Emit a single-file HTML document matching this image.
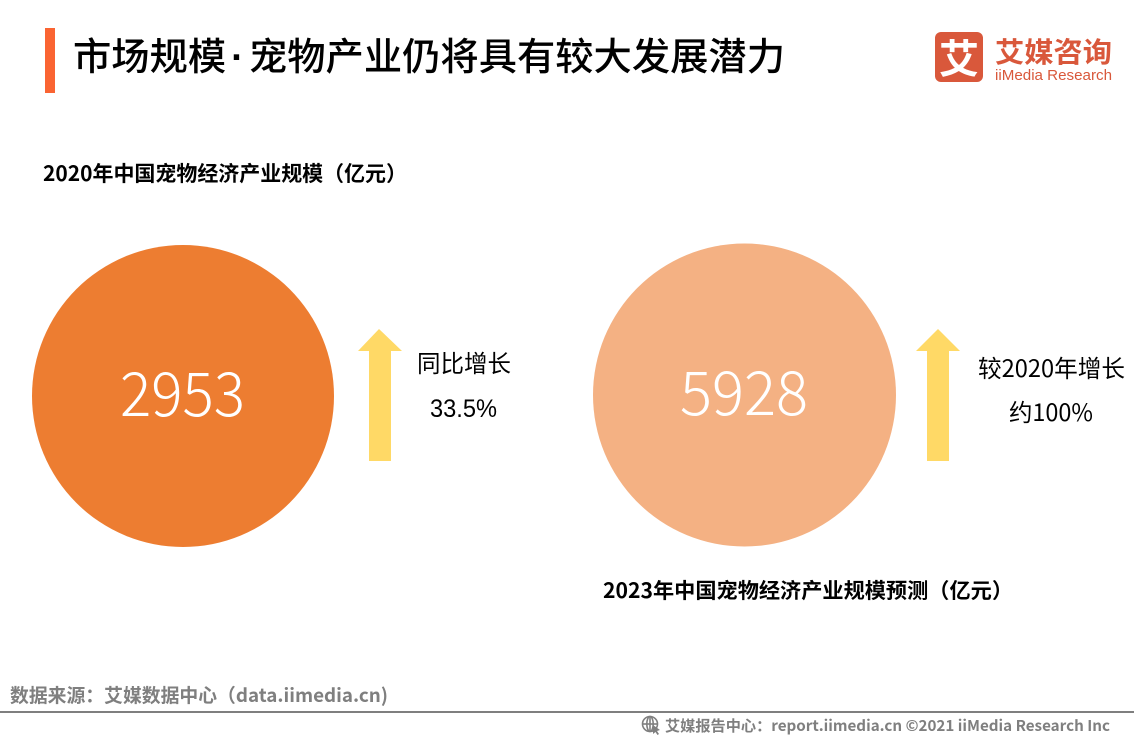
<!DOCTYPE html>
<html><head><meta charset="utf-8"><style>
html,body{margin:0;padding:0;background:#fff;}
svg{display:block;}
text{font-family:"Liberation Sans","Noto Sans CJK SC",sans-serif;}
.cjk{font-family:"Noto Sans CJK SC","Liberation Sans",sans-serif;}
.lat{font-family:"Liberation Sans",sans-serif;}
</style></head><body>
<svg width="1134" height="737" viewBox="0 0 1134 737" xmlns="http://www.w3.org/2000/svg">
<rect x="0" y="0" width="1134" height="737" fill="#fff"/>
<!-- title -->
<rect x="45" y="28" width="10" height="65" fill="#FA6432"/>
<text class="cjk" x="73" y="70" font-size="38" font-weight="500" fill="#000" textLength="712" lengthAdjust="spacingAndGlyphs">市场规模<tspan class="lat" font-weight="bold" dx="5">·</tspan><tspan dx="5">宠物产业仍将具有较大发展潜力</tspan></text>
<!-- logo -->
<rect x="935" y="32" width="48" height="50" rx="6" fill="#D9583B"/>
<text class="cjk" x="959" y="73" font-size="40" font-weight="bold" fill="#fff" text-anchor="middle">艾</text>
<text class="cjk" x="995" y="62" font-size="28" font-weight="bold" fill="#D9583B" textLength="117" lengthAdjust="spacingAndGlyphs">艾媒咨询</text>
<text x="995" y="80" font-size="15" fill="#D9583B" textLength="117" lengthAdjust="spacingAndGlyphs">iiMedia Research</text>
<!-- subtitles -->
<text class="cjk" x="43" y="181" font-size="21" font-weight="bold" fill="#000" textLength="364" lengthAdjust="spacingAndGlyphs">2020年中国宠物经济产业规模（亿元）</text>
<text class="cjk" x="603" y="598" font-size="21" font-weight="bold" fill="#000" textLength="410" lengthAdjust="spacingAndGlyphs">2023年中国宠物经济产业规模预测（亿元）</text>
<!-- circles -->
<circle cx="183" cy="396" r="151" fill="#ED7D31"/>
<text class="cjk" x="120" y="416" font-size="61" font-weight="300" fill="#fff" textLength="125" lengthAdjust="spacingAndGlyphs">2953</text>
<circle cx="744.5" cy="395" r="151.5" fill="#F4B183"/>
<text class="cjk" x="680" y="415" font-size="61" font-weight="300" fill="#fff" textLength="128" lengthAdjust="spacingAndGlyphs">5928</text>
<!-- arrows -->
<polygon points="379,329 402,351 391,351 391,461 369,461 369,351 358,351" fill="#FFD966"/>
<polygon points="938,329 960,351 949,351 949,461 927,461 927,351 916,351" fill="#FFD966"/>
<!-- growth texts -->
<text class="cjk" x="417" y="372" font-size="24" fill="#000" textLength="94" lengthAdjust="spacingAndGlyphs">同比增长</text>
<text x="430" y="417" font-size="25" fill="#000" textLength="67" lengthAdjust="spacingAndGlyphs">33.5%</text>
<text class="cjk" x="978" y="377" font-size="24" fill="#000" textLength="147" lengthAdjust="spacingAndGlyphs">较2020年增长</text>
<text class="cjk" x="1009" y="421" font-size="24" fill="#000" textLength="84" lengthAdjust="spacingAndGlyphs">约100%</text>
<!-- footer -->
<text class="cjk" x="10" y="702" font-size="19" font-weight="bold" fill="#7F7F7F" textLength="378" lengthAdjust="spacingAndGlyphs">数据来源：艾媒数据中心（data.iimedia.cn)</text>
<rect x="0" y="711" width="1134" height="2" fill="#7F7F7F"/>
<g stroke="#7F7F7F" fill="none" stroke-width="1.6">
<circle cx="650" cy="724" r="7.5"/>
<ellipse cx="650" cy="724" rx="3.2" ry="7.5"/>
<line x1="642.5" y1="724" x2="657.5" y2="724"/>
<line x1="650" y1="716.5" x2="650" y2="731.5"/>
</g>
<polygon points="653,725 660,730 657,731 659,734 657.5,735 655.5,732 653,734" fill="#7F7F7F"/>
<text class="cjk" x="665" y="731" font-size="15" font-weight="bold" fill="#7F7F7F" textLength="445" lengthAdjust="spacingAndGlyphs">艾媒报告中心：report.iimedia.cn ©2021  iiMedia Research  Inc</text>
</svg>
</body></html>
